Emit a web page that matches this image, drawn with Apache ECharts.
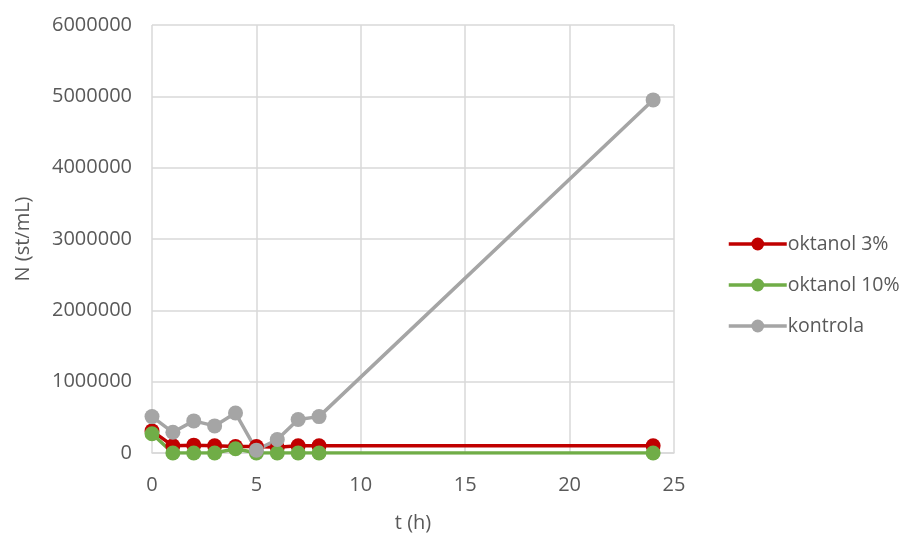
<!DOCTYPE html>
<html><head><meta charset="utf-8">
<script src="https://cdn.jsdelivr.net/npm/echarts@6/dist/echarts.min.js"></script>
<style>html,body{margin:0;padding:0;background:#fff}#c{width:908px;height:533px}</style>
</head><body><div id="c"></div>
<script>
const tHours = [0, 1, 2, 3, 4, 5, 6, 7, 8, 24];
const oktanol3 = [310000, 100000, 110000, 100000, 90000, 90000, 80000, 100000, 100000, 100000];
const oktanol10 = [270000, 0, 0, 0, 60000, 0, 0, 0, 0, 0];
const kontrola = [510000, 290000, 450000, 380000, 560000, 40000, 190000, 470000, 510000, 4950000];
const seriesNames = ['oktanol 3%', 'oktanol 10%', 'kontrola'];
const seriesColors = ['#c00000', '#70ad47', '#a5a5a5'];
const seriesData = [oktanol3, oktanol10, kontrola];

const font = '"Open Sans", sans-serif';
const chart = echarts.init(document.getElementById('c'));
chart.setOption({
  animation: false,
  grid: {left: 152, right: 234, top: 25, bottom: 80, containLabel: false, outerBoundsMode: 'none'},
  xAxis: {
    type: 'value', min: 0, max: 25, interval: 5,
    name: 't (h)', nameLocation: 'middle', nameGap: 60,
    nameTextStyle: {color: '#595959', fontSize: 20, fontFamily: font},
    axisLine: {show: true, lineStyle: {color: '#d9d9d9', width: 1.5}},
    axisTick: {show: false},
    axisLabel: {color: '#595959', fontSize: 20, fontFamily: font, margin: 22},
    splitLine: {show: true, lineStyle: {color: '#d9d9d9', width: 1.5}}
  },
  yAxis: {
    type: 'value', min: 0, max: 6000000, interval: 1000000,
    name: 'N (st/mL)', nameLocation: 'middle', nameGap: 119, nameRotate: 90,
    nameTextStyle: {color: '#595959', fontSize: 20, fontFamily: font},
    axisLine: {show: false},
    axisTick: {show: false},
    axisLabel: {color: '#595959', fontSize: 20, fontFamily: font, margin: 20,
      formatter: v => String(v)},
    splitLine: {show: true, lineStyle: {color: '#d9d9d9', width: 1.5}}
  },
  legend: {
    orient: 'vertical', left: 722, top: 229, itemGap: 21,
    itemWidth: 58, itemHeight: 16,
    lineStyle: {width: 3.5},
    textStyle: {color: '#595959', fontSize: 19.5, fontFamily: font, padding: [0,0,0,-4]},
    data: seriesNames
  },
  series: seriesNames.map((n, i) => ({
    name: n, type: 'line',
    data: tHours.map((t, j) => [t, seriesData[i][j]]),
    color: seriesColors[i],
    symbol: 'circle', symbolSize: 15,
    lineStyle: {width: 3.5, color: seriesColors[i]},
    itemStyle: {color: seriesColors[i]}
  }))
});
</script></body></html>
